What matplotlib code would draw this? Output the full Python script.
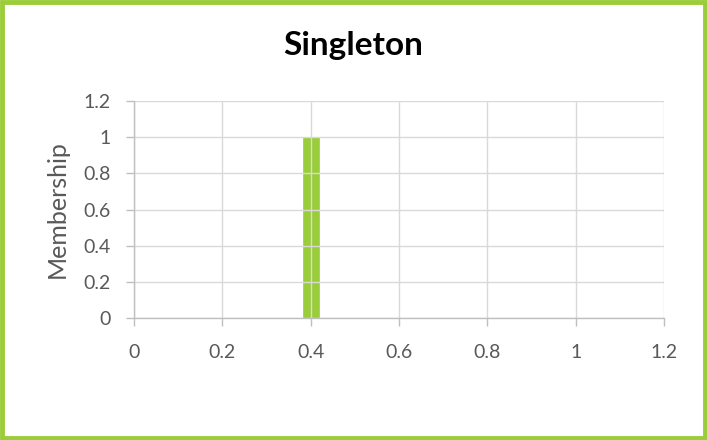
import matplotlib
matplotlib.use("Agg")
import matplotlib.pyplot as plt
from matplotlib.patches import Rectangle

# Singleton membership function: a single spike at x = 0.4
x_vals = [0.4, 0.4]
membership = [0.0, 1.0]
x_ticks = [0, 0.2, 0.4, 0.6, 0.8, 1.0, 1.2]
y_ticks = [0, 0.2, 0.4, 0.6, 0.8, 1.0, 1.2]
x_labels = ["0", "0.2", "0.4", "0.6", "0.8", "1", "1.2"]
y_labels = ["0", "0.2", "0.4", "0.6", "0.8", "1", "1.2"]

green = "#9acd3a"
grid_c = "#d9d9d9"
text_c = "#595959"

plt.rcParams["font.family"] = ["Lato", "DejaVu Sans"]

fig = plt.figure(figsize=(7.07, 4.4), dpi=100)
W, H = 707, 440
ax = fig.add_axes([134 / W, 1 - 318 / H, (664 - 134) / W, (318 - 101) / H])

ax.plot(x_vals, membership, color=green, linewidth=12,
        solid_capstyle="butt", zorder=1)

ax.set_xlim(0, 1.2)
ax.set_ylim(0, 1.2)
ax.set_xticks(x_ticks)
ax.set_xticklabels(x_labels)
ax.set_yticks(y_ticks)
ax.set_yticklabels(y_labels)
ax.grid(True, color=grid_c, linewidth=1.0, zorder=1.5)
ax.set_axisbelow("line")

for s in ("top", "right"):
    ax.spines[s].set_visible(False)
for s in ("left", "bottom"):
    ax.spines[s].set_color("#bfbfbf")
    ax.spines[s].set_linewidth(1.0)
ax.tick_params(axis="both", colors="#bfbfbf", labelcolor=text_c,
               labelsize=14, length=6, width=1.0)
ax.tick_params(axis="x", pad=13)
ax.tick_params(axis="y", pad=11)

ax.set_ylabel("Membership", color=text_c, fontsize=18)
ax.yaxis.set_label_coords((69 - 134) / 530, 0.5)

fig.text(0.5, 1 - 45 / H, "Singleton", ha="center", va="center",
         fontsize=24, fontweight="bold", color="black")

# green frame around the whole figure
fig.patches.append(Rectangle((0.003, 0.005), 0.994, 0.99, transform=fig.transFigure,
                             fill=False, edgecolor=green, linewidth=3.5))

fig.savefig("out.png", dpi=100)
